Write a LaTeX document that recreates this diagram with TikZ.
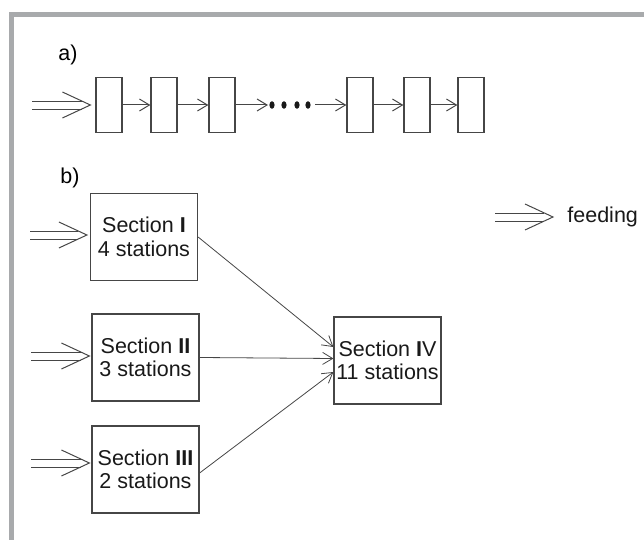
\documentclass[tikz,border=0pt]{standalone}
\usepackage{fontspec}
\setmainfont{Liberation Sans}
\usetikzlibrary{arrows.meta,decorations.markings}
\definecolor{framegray}{RGB}{168,170,172}
\definecolor{linegray}{RGB}{70,70,70}
\begin{document}
\begin{tikzpicture}[x=0.5pt,y=-0.5pt,
    font=\fontsize{10.75}{11.75}\selectfont,
    station/.style={draw=linegray,line width=0.6pt,minimum width=13pt,minimum height=27.5pt,inner sep=0pt},
    section/.style={draw=linegray,line width=0.6pt,minimum width=53.5pt,minimum height=43.5pt,inner sep=0.5pt,align=center,text=black!90},
    flow/.style={draw=linegray,line width=0.5pt,-{Straight Barb[length=5pt,width=6pt]}},
    feed/.style={line width=0.5pt,
      preaction={draw=linegray,shorten >=4.3pt,transform canvas={yshift=2pt}},
      preaction={draw=linegray,shorten >=4.3pt,transform canvas={yshift=-2pt}},
      postaction={decorate,decoration={markings,mark=at position 1 with
        {\draw[linegray,line width=0.5pt] (-14pt,6.5pt) -- (0,0) -- (-14pt,-6.5pt);}}}}]
    \useasboundingbox (0,0) rectangle (644,540);
    \fill[framegray] (9,12) rectangle (644,17);
    \fill[framegray] (9,12) rectangle (14,540);

    \node[anchor=base west,inner sep=0pt] (la) at (58,61) {a)};
    \node[station] (b1) at (109,105) {};
    \node[station] (b2) at (164,105) {};
    \node[station] (b3) at (222,105) {};
    \node[station] (b4) at (360,105) {};
    \node[station] (b5) at (417,105) {};
    \node[station] (b6) at (471,105) {};
    \coordinate (fa) at (32,105);
    \coordinate (dl) at (268,105);
    \coordinate (dr) at (315,105);
    \path[feed] (fa) -- ([xshift=-2.5pt]b1.west);
    \draw[flow] (b1) -- (b2);
    \draw[flow] (b2) -- (b3);
    \draw[flow] (b3) -- (dl);
    \foreach \x in {272,284,297,308}
        \fill[black!90] (\x,105) ellipse (1.3pt and 1.9pt);
    \draw[flow] (dr) -- (b4);
    \draw[flow] (b4) -- (b5);
    \draw[flow] (b5) -- (b6);

    \node[anchor=base west,inner sep=0pt] (lb) at (60,184) {b)};
    \node[section] (s1) at (144,237) {Section \textbf{I}\\4 stations};
    \node[section] (s2) at (145.5,357.5) {Section \textbf{II}\\3 stations};
    \node[section] (s3) at (145.5,469.5) {Section \textbf{III}\\2 stations};
    \node[section] (s4) at (387.5,360.5) {Section \textbf{I}V\\11 stations};
    \coordinate (f1) at (30,235);
    \coordinate (f2) at (31,356);
    \coordinate (f3) at (31,463);
    \path[feed] (f1) -- ([xshift=-1.5pt]f1 -| s1.west);
    \path[feed] (f2) -- ([xshift=-1pt]f2 -| s2.west);
    \path[feed] (f3) -- ([xshift=-1pt]f3 -| s3.west);
    \draw[flow,line width=0.4pt] (s1.east) -- ([yshift=6.75pt]s4.west);
    \draw[flow,line width=0.4pt] (s2.east) -- ([yshift=1pt]s4.west);
    \draw[flow,line width=0.4pt] ([yshift=-1.75pt]s3.east) -- ([yshift=-5.75pt]s4.west);

    \coordinate (lg) at (495,217);
    \node[anchor=west,inner sep=0pt,text=black!90] (fd) at (567,217) {feeding};
    \path[feed] (lg) -- ([xshift=-7pt]lg -| fd.west);
\end{tikzpicture}
\end{document}
